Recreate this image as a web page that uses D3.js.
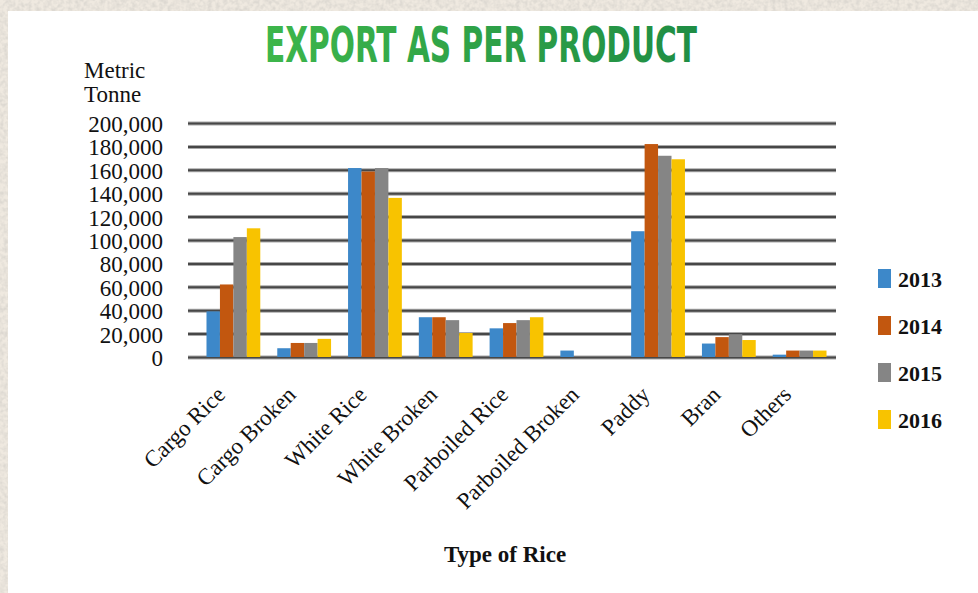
<!DOCTYPE html>
<html lang="en">
<head>
    <meta charset="UTF-8">
    <title>Export as per product</title>
    <style>
        body { margin: 0; background: #fff; }
        svg { display: block; }
    </style>
</head>
<body>

    <svg id="svg" width="978" height="593"></svg>

    <script src="https://d3js.org/d3.v7.min.js"></script>
    <script>
        // data (metric tonnes)
        const categories = ['Cargo Rice', 'Cargo Broken', 'White Rice', 'White Broken',
            'Parboiled Rice', 'Parboiled Broken', 'Paddy', 'Bran', 'Others']
        const years = ['2013', '2014', '2015', '2016']
        const v2013 = [39000, 7500, 161500, 34000, 24500, 5500, 107500, 11500, 2000]
        const v2014 = [62000, 12000, 158500, 34000, 29000, 0, 182000, 17000, 5500]
        const v2015 = [102500, 12000, 161500, 31500, 31500, 0, 172000, 19500, 5500]
        const v2016 = [110000, 15500, 136000, 20500, 34000, 0, 169000, 14500, 5500]
        const yTicks = [0, 20000, 40000, 60000, 80000, 100000, 120000, 140000, 160000, 180000, 200000]

        const series = [v2013, v2014, v2015, v2016]
        const table = categories.map((c, i) => ({
            category: c,
            values: years.map((y, j) => ({ year: y, value: series[j][i] }))
        }))

        const colors = d3.scaleOrdinal()
            .domain(years)
            .range(['#3d88c9', '#c2570f', '#858585', '#f8c300'])

        const svg = d3.select('#svg')

        // paper texture behind the white panel
        const defs = svg.append('defs')
        const filter = defs.append('filter').attr('id', 'paper')
        filter.append('feTurbulence')
            .attr('type', 'fractalNoise')
            .attr('baseFrequency', 0.25)
            .attr('numOctaves', 3)
            .attr('seed', 4)
        filter.append('feColorMatrix')
            .attr('type', 'matrix')
            .attr('values', '0 0 0 0 0.72  0 0 0 0 0.69  0 0 0 0 0.64  0 0 0 2.2 -0.75')

        const grad = defs.append('linearGradient').attr('id', 'titleGrad')
        grad.append('stop').attr('offset', '0%').attr('stop-color', '#3db64b')
        grad.append('stop').attr('offset', '100%').attr('stop-color', '#1f8d44')

        svg.append('rect')
            .attr('width', 978).attr('height', 593)
            .attr('fill', '#efe9e0')
        svg.append('rect')
            .attr('width', 978).attr('height', 593)
            .attr('filter', 'url(#paper)')
        svg.append('rect')
            .attr('x', 8).attr('y', 11)
            .attr('width', 978).attr('height', 600)
            .attr('fill', '#fff')

        // title
        svg.append('text')
            .text('EXPORT AS PER PRODUCT')
            .attr('x', 265)
            .attr('y', 62)
            .attr('textLength', 432)
            .attr('lengthAdjust', 'spacingAndGlyphs')
            .style('font-family', 'DejaVu Sans Condensed')
            .style('font-weight', 'bold')
            .style('font-size', '49px')
            .attr('fill', 'url(#titleGrad)')

        // y unit label
        const unit = svg.append('text')
            .attr('x', 84)
            .style('font-family', 'Liberation Serif')
            .style('font-size', '23px')
            .attr('fill', '#111')
        unit.append('tspan').attr('x', 84).attr('y', 78).text('Metric')
        unit.append('tspan').attr('x', 84).attr('y', 102).text('Tonne')

        // scales
        const xScale = d3.scaleBand()
            .domain(categories)
            .range([198, 835])
            .paddingInner(0.24)
            .paddingOuter(0.12)

        const x1Scale = d3.scaleBand()
            .domain(years)
            .range([0, xScale.bandwidth()])

        const yScale = d3.scaleLinear()
            .domain([0, 200000])
            .range([357, 123])

        // gridlines + tick labels
        const yAxis = svg.append('g')
            .attr('transform', 'translate(188,0)')
            .call(d3.axisLeft(yScale)
                .tickValues(yTicks)
                .tickSize(-(836 - 188))
                .tickPadding(25)
                .tickFormat(d3.format(',')))
        yAxis.select('.domain').remove()
        yAxis.selectAll('.tick line')
            .attr('stroke', '#a8a8a8')
            .attr('stroke-width', 4)
        yAxis.selectAll('.tick')
            .append('line')
            .attr('x2', 836 - 188)
            .attr('stroke', '#474747')
            .attr('stroke-width', 2)
        yAxis.selectAll('.tick text')
            .attr('dy', '0.37em')
            .attr('fill', '#111')
            .style('font-family', 'Liberation Serif')
            .style('font-size', '23px')

        // bars
        const groups = svg.append('g')
            .selectAll('g')
            .data(table)
            .enter()
            .append('g')
            .attr('transform', d => `translate(${xScale(d.category)},0)`)

        groups.selectAll('rect')
            .data(d => d.values)
            .enter()
            .append('rect')
            .attr('x', d => x1Scale(d.year))
            .attr('y', d => yScale(d.value))
            .attr('width', x1Scale.bandwidth())
            .attr('height', d => yScale(0) - yScale(d.value))
            .attr('fill', d => colors(d.year))

        // x labels, rotated
        svg.append('g')
            .selectAll('text')
            .data(categories)
            .enter()
            .append('text')
            .text(d => d)
            .attr('text-anchor', 'end')
            .attr('transform', d => `translate(${xScale(d) + xScale.bandwidth() / 2 - 7},396) rotate(-45)`)
            .style('font-family', 'Liberation Serif')
            .style('font-size', '23px')
            .attr('fill', '#111')

        svg.append('text')
            .text('Type of Rice')
            .attr('x', 505)
            .attr('y', 562)
            .attr('text-anchor', 'middle')
            .style('font-family', 'Liberation Serif')
            .style('font-weight', 'bold')
            .style('font-size', '23px')
            .attr('fill', '#111')

        // legend
        const legend = svg.append('g')
            .selectAll('g')
            .data(years)
            .enter()
            .append('g')
            .attr('transform', (d, i) => `translate(878,${269 + i * 47})`)

        legend.append('rect')
            .attr('width', 13)
            .attr('height', 19)
            .attr('fill', d => colors(d))

        legend.append('text')
            .text(d => d)
            .attr('x', 20)
            .attr('y', 18)
            .style('font-family', 'Liberation Serif')
            .style('font-weight', 'bold')
            .style('font-size', '22px')
            .attr('fill', '#111')
    </script>
</body>
</html>
